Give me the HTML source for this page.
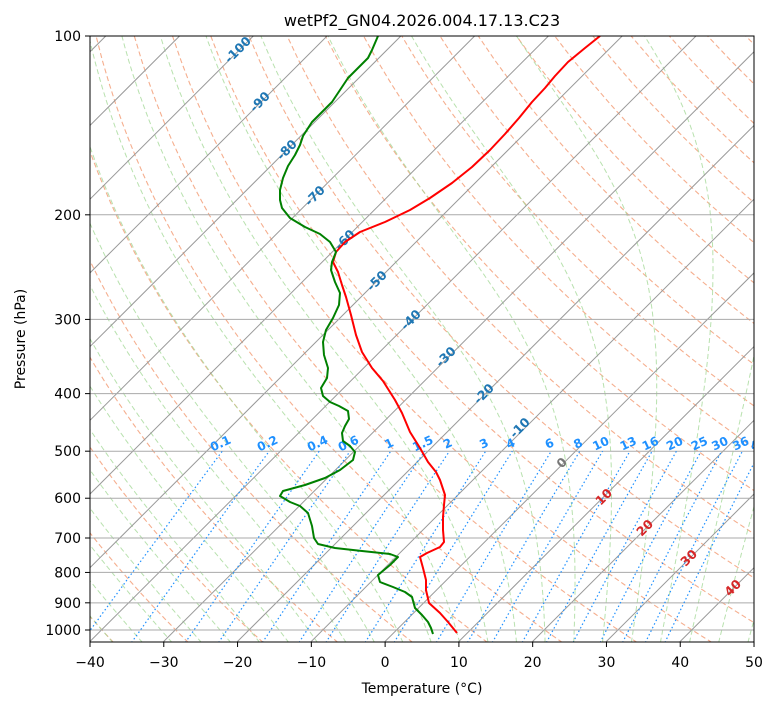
<!DOCTYPE html>
<html><head><meta charset="utf-8"><style>
body{margin:0;background:#fff;}
svg text{font-family:"DejaVu Sans","Liberation Sans",sans-serif;}
</style></head><body>
<svg id="s" width="775" height="708" xmlns="http://www.w3.org/2000/svg">
<defs><clipPath id="c"><rect x="90" y="36" width="664" height="606"/></clipPath></defs>
<rect width="775" height="708" fill="#fff"/>
<g id="g" clip-path="url(#c)"></g>
<rect x="90" y="36" width="664" height="606" fill="none" stroke="#000" stroke-width="1"/>
<text x="422" y="26" font-size="16" text-anchor="middle">wetPf2_GN04.2026.004.17.13.C23</text>
<text x="422" y="693" font-size="14" text-anchor="middle">Temperature (°C)</text>
<text transform="translate(25,339) rotate(-90)" font-size="14" text-anchor="middle">Pressure (hPa)</text>
<g id="ax"></g>
</svg>
<script>
var NS="http://www.w3.org/2000/svg",g=document.getElementById('g'),ax=document.getElementById('ax');
function el(p,tag,a,t){var e=document.createElementNS(NS,tag);for(var k in a)e.setAttribute(k,a[k]);if(t!=null)e.textContent=t;p.appendChild(e);return e;}
function Y(p){return 36+594*Math.log10(p/100);}
function X(T,p){var y=Y(p);return 90+(T+40)*7.378+(642-y);}
function poly(pts,a){var d=pts.map(function(q,i){return(i?'L':'M')+q[0].toFixed(1)+','+q[1].toFixed(1);}).join('');a.d=d;a.fill='none';el(g,'path',a);}
var ps=[];for(var p=1050;p>=100;p-=10)ps.push(p);
for(var t0=-60;t0<=250;t0+=10){var th=t0+273.15;poly(ps.map(function(p){return[X(th*Math.pow(p/1000,0.2857)-273.15,p),Y(p)];}),{stroke:'#f4a582','stroke-width':1.1,'stroke-dasharray':'5,3',opacity:0.9});}
function es(T){return 6.112*Math.exp(17.67*T/(T+243.5));}
for(var t0=-40;t0<=48;t0+=4){function integ(dir){var T=t0+273.15,p=1000,arr=[];while(dir>0?p<=1050:p>=100){arr.push([X(T-273.15,p),Y(p)]);var e=es(T-273.15),rs=0.622*e/(p-e);var dTdp=(287*T+2.5e6*rs)/(1004+2.5e6*2.5e6*rs*0.622/(287*T*T))/p;var dp=dir*2;T+=dTdp*dp;p+=dp;}return arr;}
var up=integ(-1),dn=integ(1);poly(dn.reverse().concat(up),{stroke:'#a6d99a','stroke-width':1,'stroke-dasharray':'5,3',opacity:0.8});}
for(var T=-160;T<=50;T+=10){el(g,'line',{x1:X(T,1050),y1:642,x2:X(T,100),y2:36,stroke:'#999','stroke-width':1});}
for(var p=100;p<=1000;p+=100){el(g,'line',{x1:90,y1:Y(p),x2:754,y2:Y(p),stroke:'#aaa','stroke-width':1});}
var ws=[0.1,0.2,0.4,0.6,1,1.5,2,3,4,6,8,10,13,16,20,25,30,36,42];
ws.forEach(function(w){var pts=[];for(var p=1050;p>=500;p-=10){var e=p*w/1000/(0.622+w/1000),l=Math.log(e/6.112),Td=243.5*l/(17.67-l);pts.push([X(Td,p),Y(p)]);}
poly(pts,{stroke:'#1e90ff','stroke-width':1.2,'stroke-dasharray':'1.5,2.5'});var q=pts[pts.length-1];
el(g,'text',{x:q[0],y:q[1]-4,'font-size':12,'font-weight':'bold',fill:'#1e90ff','text-anchor':'middle',transform:'rotate(-25 '+q[0]+' '+(q[1]-4)+')'},String(w));});
var lab=[[-100,238,50],[-90,260,102],[-80,287,150],[-70,315,196],[-60,345,240],[-50,377,281],[-40,411,320],[-30,446,357],[-20,484,394],[-10,520,428],[0,562,463],[10,604,497],[20,645,528],[30,689,558],[40,733,588]];
lab.forEach(function(l){var c=l[0]<0?'#1f77b4':(l[0]==0?'#777':'#d62728');el(g,'text',{x:l[1],y:l[2]+4,'font-size':12.5,'font-weight':'bold',fill:c,'text-anchor':'middle',transform:'rotate(-45 '+l[1]+' '+l[2]+')'},String(l[0]));});
var red=[[600,36],[585,48],[568,62],[555,76],[545,88],[532,102],[519,118],[505,134],[490,150],[472,167],[452,183],[430,198],[410,210],[385,222],[360,232],[345,242],[336,252],[333,262],[338,272],[342,285],[346,297],[351,315],[356,335],[362,352],[372,368],[383,381],[395,400],[402,413],[410,432],[420,448],[428,462],[436,472],[440,480],[445,495],[444,505],[443,517],[443,530],[444,542],[440,547],[427,553],[420,557],[423,568],[426,580],[426,590],[429,603],[440,613],[448,622],[457,633]];
var grn=[[378,36],[372,50],[368,58],[358,68],[348,78],[340,90],[332,102],[322,112],[312,122],[303,136],[300,145],[295,155],[288,166],[283,178],[280,190],[280,200],[282,208],[290,218],[305,227],[320,234],[330,242],[336,252],[332,262],[331,270],[335,282],[340,293],[339,305],[333,318],[326,330],[323,342],[324,355],[328,368],[327,378],[321,388],[323,396],[330,402],[339,406],[348,411],[349,419],[345,426],[342,433],[343,441],[350,446],[355,452],[353,460],[340,470],[325,478],[305,485],[283,491],[280,496],[290,502],[300,506],[308,513],[312,526],[314,538],[318,544],[335,548],[362,551],[390,554],[398,557],[390,565],[378,575],[380,582],[393,587],[405,592],[412,597],[415,608],[422,615],[428,622],[431,628],[433,634]];
poly(red,{stroke:'#f00','stroke-width':2,'stroke-linejoin':'round'});
poly(grn,{stroke:'#008000','stroke-width':2,'stroke-linejoin':'round'});
for(var T=-40;T<=50;T+=10){var x=90+(T+40)*7.378;el(ax,'line',{x1:x,y1:642,x2:x,y2:647,stroke:'#000'});el(ax,'text',{x:x,y:667,'font-size':14,'text-anchor':'middle'},String(T).replace('-','\u2212'));}
for(var p=100;p<=1000;p+=100){var y=Y(p);el(ax,'line',{x1:85,y1:y,x2:90,y2:y,stroke:'#000'});el(ax,'text',{x:81,y:y+5,'font-size':14,'text-anchor':'end'},String(p));}
</script>
</body></html>
